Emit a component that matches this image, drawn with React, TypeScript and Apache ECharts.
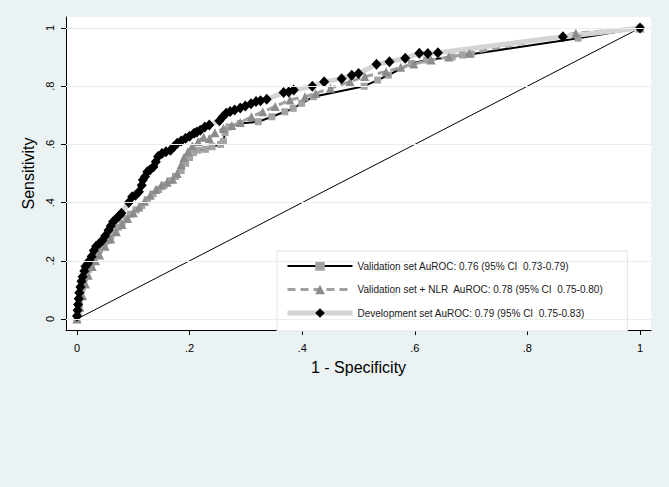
import React, { useEffect, useRef } from "react";
import * as echarts from "echarts";

const xTicks = [0, 0.2, 0.4, 0.6, 0.8, 1];
const yTicks = [0, 0.2, 0.4, 0.6, 0.8, 1];
const tickLabels = ["0", ".2", ".4", ".6", ".8", "1"];

const seriesNames = [
  "Validation set AuROC: 0.76 (95% CI  0.73-0.79)",
  "Validation set + NLR  AuROC: 0.78 (95% CI  0.75-0.80)",
  "Development set AuROC: 0.79 (95% CI  0.75-0.83)",
];

const referenceLine: [number, number][] = [
  [0, 0],
  [1, 1],
];

const validation: [number, number][] = [
  [0, 0], [0.002, 0.02], [0.004, 0.05], [0.006, 0.08], [0.009, 0.11], [0.012, 0.13],
  [0.016, 0.15], [0.02, 0.17], [0.025, 0.19], [0.03, 0.21], [0.035, 0.22], [0.04, 0.24],
  [0.047, 0.255], [0.055, 0.27], [0.06, 0.285], [0.066, 0.3], [0.073, 0.315], [0.08, 0.33],
  [0.088, 0.345], [0.095, 0.36], [0.105, 0.375], [0.115, 0.39], [0.125, 0.41], [0.135, 0.43],
  [0.145, 0.445], [0.155, 0.46], [0.165, 0.475], [0.175, 0.49], [0.185, 0.51], [0.193, 0.535],
  [0.2, 0.555], [0.207, 0.572], [0.215, 0.58], [0.228, 0.583], [0.24, 0.592], [0.255, 0.6],
  [0.26, 0.61], [0.263, 0.64], [0.27, 0.66], [0.29, 0.672], [0.322, 0.678], [0.346, 0.695],
  [0.369, 0.712], [0.384, 0.724], [0.399, 0.741], [0.42, 0.764], [0.51, 0.8], [0.534, 0.821],
  [0.553, 0.838], [0.594, 0.878], [0.621, 0.89], [0.666, 0.9], [0.685, 0.907], [0.7, 0.91],
  [0.89, 0.965], [1, 1],
];

const validationNLR: [number, number][] = [
  [0, 0], [0.005, 0.04], [0.01, 0.08], [0.015, 0.12], [0.02, 0.15], [0.027, 0.18],
  [0.033, 0.2], [0.04, 0.22], [0.05, 0.25], [0.06, 0.275], [0.07, 0.3], [0.08, 0.325],
  [0.09, 0.345], [0.1, 0.365], [0.11, 0.385], [0.12, 0.405], [0.13, 0.425], [0.14, 0.445],
  [0.15, 0.46], [0.16, 0.47], [0.17, 0.48], [0.178, 0.5], [0.185, 0.53], [0.19, 0.555],
  [0.197, 0.575], [0.205, 0.595], [0.215, 0.61], [0.225, 0.625], [0.235, 0.62], [0.245, 0.64],
  [0.26, 0.655], [0.275, 0.665], [0.29, 0.675], [0.31, 0.695], [0.33, 0.712], [0.352, 0.73],
  [0.378, 0.753], [0.405, 0.764], [0.424, 0.775], [0.45, 0.793], [0.485, 0.816], [0.511, 0.833],
  [0.549, 0.85], [0.575, 0.865], [0.598, 0.876], [0.629, 0.89], [0.66, 0.9], [0.697, 0.913],
  [0.886, 0.982], [1, 1],
];

const development: [number, number][] = [
  [0, 0.01], [0.001, 0.03], [0.002, 0.05], [0.003, 0.07], [0.004, 0.09], [0.006, 0.11],
  [0.008, 0.13], [0.01, 0.145], [0.013, 0.165], [0.015, 0.18], [0.019, 0.19], [0.022, 0.2],
  [0.026, 0.215], [0.03, 0.235], [0.034, 0.25], [0.04, 0.26], [0.045, 0.27], [0.05, 0.285],
  [0.056, 0.305], [0.06, 0.32], [0.064, 0.334], [0.07, 0.345], [0.075, 0.355], [0.079, 0.363],
  [0.092, 0.4], [0.098, 0.42], [0.104, 0.425], [0.11, 0.437], [0.115, 0.46], [0.117, 0.478],
  [0.121, 0.49], [0.125, 0.506], [0.13, 0.513], [0.136, 0.523], [0.14, 0.54], [0.144, 0.558],
  [0.151, 0.569], [0.158, 0.575], [0.166, 0.58], [0.172, 0.592], [0.178, 0.604], [0.185, 0.612],
  [0.193, 0.621], [0.2, 0.628], [0.208, 0.638], [0.213, 0.643], [0.219, 0.649], [0.227, 0.66],
  [0.235, 0.667], [0.253, 0.681], [0.259, 0.695], [0.265, 0.707], [0.272, 0.713], [0.28, 0.718],
  [0.29, 0.725], [0.299, 0.732], [0.309, 0.74], [0.318, 0.747], [0.326, 0.75], [0.337, 0.755],
  [0.367, 0.778], [0.376, 0.78], [0.385, 0.787], [0.418, 0.8], [0.439, 0.815], [0.47, 0.826],
  [0.488, 0.838], [0.5, 0.844], [0.532, 0.875], [0.555, 0.884], [0.583, 0.896], [0.608, 0.913],
  [0.623, 0.912], [0.641, 0.915], [0.863, 0.97], [1, 1],
];

const FONT = "'Liberation Sans', Arial, sans-serif";
const BG = "#eaf2f3";

const validationLine = { color: "#000", width: 2 };
const nlrLine = { color: "#a0a0a0", width: 3, type: [8, 5] };
const devLine = { color: "#d4d4d4", width: 5 };

function tickFormatter(v: number): string {
  for (let i = 0; i < xTicks.length; i++) {
    if (Math.abs(xTicks[i] - v) < 1e-6) return tickLabels[i];
  }
  return "";
}

export default function App() {
  const ref = useRef<HTMLDivElement>(null);
  useEffect(() => {
    if (!ref.current) return;
    const chart = echarts.init(ref.current, null, { renderer: "svg" });
    chart.setOption({
      animation: false,
      backgroundColor: BG,
      textStyle: { fontFamily: FONT },
      grid: {
        left: 66,
        top: 17,
        width: 585,
        height: 313,
        show: true,
        backgroundColor: "#ffffff",
        borderWidth: 0,
        containLabel: false,
      },
      legend: {
        show: true,
        orient: "vertical",
        left: 277,
        top: 251,
        data: [
          { name: seriesNames[0], lineStyle: validationLine },
          { name: seriesNames[1], lineStyle: nlrLine },
          { name: seriesNames[2], lineStyle: devLine },
        ],
        itemWidth: 65,
        itemHeight: 12,
        itemGap: 11.5,
        padding: [9, 24, 12, 8],
        backgroundColor: "#ffffff",
        borderColor: "#dde5e7",
        borderWidth: 1,
        selectedMode: false,
        textStyle: { fontSize: 10, color: "#1a1a1a", fontFamily: FONT, lineHeight: 12 },
      },
      xAxis: {
        type: "value",
        min: -0.0195,
        max: 1.0195,
        name: "1 - Specificity",
        nameLocation: "middle",
        nameGap: 29,
        nameTextStyle: { fontSize: 16, color: "#000", fontFamily: FONT },
        axisLine: { show: true, onZero: false, lineStyle: { color: "#000", width: 1 } },
        axisTick: { show: true, customValues: xTicks, length: 5, lineStyle: { color: "#000" } },
        axisLabel: {
          customValues: xTicks,
          formatter: tickFormatter,
          margin: 12,
          fontSize: 11,
          color: "#000",
          fontFamily: FONT,
        },
        splitLine: { show: false },
      },
      yAxis: {
        type: "value",
        min: -0.0378,
        max: 1.0378,
        name: "Sensitivity",
        nameLocation: "middle",
        nameGap: 24,
        nameTextStyle: { fontSize: 16, color: "#000", fontFamily: FONT },
        axisLine: { show: true, onZero: false, lineStyle: { color: "#000", width: 1 } },
        axisTick: { show: true, customValues: yTicks, length: 5, lineStyle: { color: "#000" } },
        axisLabel: {
          customValues: yTicks,
          formatter: tickFormatter,
          rotate: 90,
          margin: 11,
          fontSize: 11,
          color: "#000",
          fontFamily: FONT,
        },
        splitLine: { show: false },
      },
      series: [
        {
          name: "reference",
          type: "line",
          data: referenceLine,
          symbol: "none",
          lineStyle: { color: "#000", width: 1 },
          silent: true,
          markLine: {
            silent: true,
            symbol: "none",
            label: { show: false },
            lineStyle: { color: "#e6eef0", width: 1, type: "solid" },
            data: yTicks.map((v) => ({ yAxis: v })),
          },
        },
        {
          name: seriesNames[0],
          type: "line",
          data: validation,
          symbol: "rect",
          symbolSize: 7,
          itemStyle: { color: "#a3a3a3" },
          lineStyle: validationLine,
        },
        {
          name: seriesNames[1],
          type: "line",
          data: validationNLR,
          symbol: "triangle",
          symbolSize: 9,
          itemStyle: { color: "#8c8c8c" },
          lineStyle: nlrLine,
        },
        {
          name: seriesNames[2],
          type: "line",
          data: development,
          symbol: "diamond",
          symbolSize: [10, 11],
          itemStyle: { color: "#000" },
          lineStyle: devLine,
        },
      ],
    });
    return () => chart.dispose();
  }, []);
  return (
    <div
      ref={ref}
      style={{ position: "absolute", left: 0, top: 0, width: 669, height: 487, background: BG }}
    />
  );
}
